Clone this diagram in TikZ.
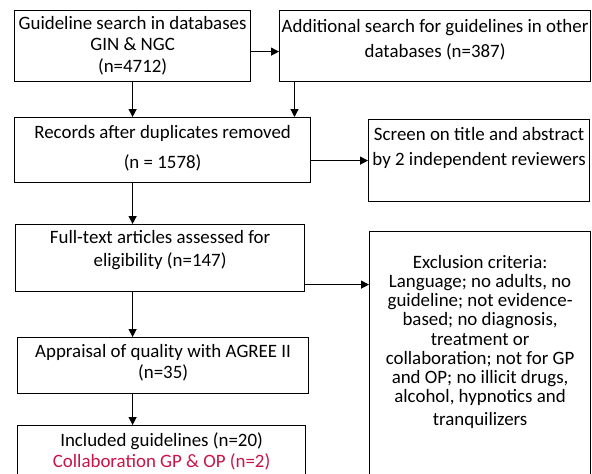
\documentclass[tikz,border=0pt]{standalone}
\usepackage{fontspec}
\setmainfont{Carlito}
\usetikzlibrary{positioning,arrows.meta}
\definecolor{collabred}{RGB}{200,20,70}
\begin{document}
\begin{tikzpicture}[x=1pt,y=-1pt]
    \tikzset{
        box/.style={draw, line width=1.2pt, anchor=north west, inner sep=0pt},
        txt/.style={font=\fontsize{18.9pt}{#1}\selectfont, align=center, inner sep=0pt},
        txt/.default=21.5pt,
        arr/.style={line width=1.2pt, -{Triangle[length=8pt,width=8pt]}},
    }
    \useasboundingbox (0,0) rectangle (592,474);
    \clip (0,0) rectangle (592,474);
    % boxes
    \node[box, minimum width=236pt, minimum height=71pt] (srch) at (14,10) {};
    \node[box, minimum width=311pt, minimum height=71pt] (addl) at (279,10) {};
    \node[box, minimum width=296pt, minimum height=65pt] (recs) at (14,117) {};
    \node[box, minimum width=221pt, minimum height=82pt] (scrn) at (368,119) {};
    \node[box, minimum width=289pt, minimum height=67pt] (full) at (15,224) {};
    \node[box, minimum width=221pt, minimum height=280pt] (excl) at (369,231) {};
    \node[box, minimum width=291pt, minimum height=56pt] (appr) at (17,337) {};
    \node[box, minimum width=288pt, minimum height=80pt] (incl) at (17,425) {};
    % texts
    \node[txt, below=5.8pt of srch.north] (srchT) {Guideline search in databases\\GIN \& NGC\\(n=4712)};
    \node[txt=25pt, below=8.7pt of addl.north] (addlT) {Additional search for guidelines in other\\databases (n=387)};
    \node[txt=29.7pt, below=8.3pt of recs.north] (recsT) {Records after duplicates removed\\(n = 1578)};
    \node[txt=25pt, below=8pt of scrn.north] (scrnT) {Screen on title and abstract\\by 2 independent reviewers};
    \node[txt=23.3pt, below=6.3pt of full.north] (fullT) {Full-text articles assessed for\\eligibility (n=147)};
    \node[txt=19.2pt, below=24pt of excl.north] (exclT) {Exclusion criteria:\\Language; no adults, no\\guideline; not evidence-\\based; no diagnosis,\\treatment or\\collaboration; not for GP\\and OP; no illicit drugs,\\alcohol, hypnotics and\\[3.5pt]tranquilizers};
    \node[txt=21.7pt, below=6.7pt of appr.north] (apprT) {Appraisal of quality with AGREE II\\(n=35)};
    \node[txt=21.7pt, below=7pt of incl.north] (inclT) {Included guidelines (n=20)\\\textcolor{collabred}{Collaboration GP \& OP (n=2)}};
    % arrows
    \coordinate (srchE) at ([yshift=-5.5pt]srch.east);
    \draw[arr] (srchE) -- (srchE -| addl.west);
    \draw[arr] (srch.south) -- (srch.south |- recs.north);
    \coordinate (addlS) at ([xshift=15.5pt]addl.south west);
    \draw[arr] (addlS) -- (addlS |- recs.north);
    \coordinate (recsE) at ([yshift=-10.5pt]recs.east);
    \draw[arr] (recsE) -- (recsE -| scrn.west);
    \draw[arr] (srch.south |- recs.south) -- (srch.south |- full.north);
    \coordinate (fullE) at ([yshift=-26.5pt]full.east);
    \draw[arr] (fullE) -- (fullE -| excl.west);
    \draw[arr] (srch.south |- full.south) -- (srch.south |- appr.north);
    \draw[arr] (srch.south |- appr.south) -- (srch.south |- incl.north);
\end{tikzpicture}
\end{document}
